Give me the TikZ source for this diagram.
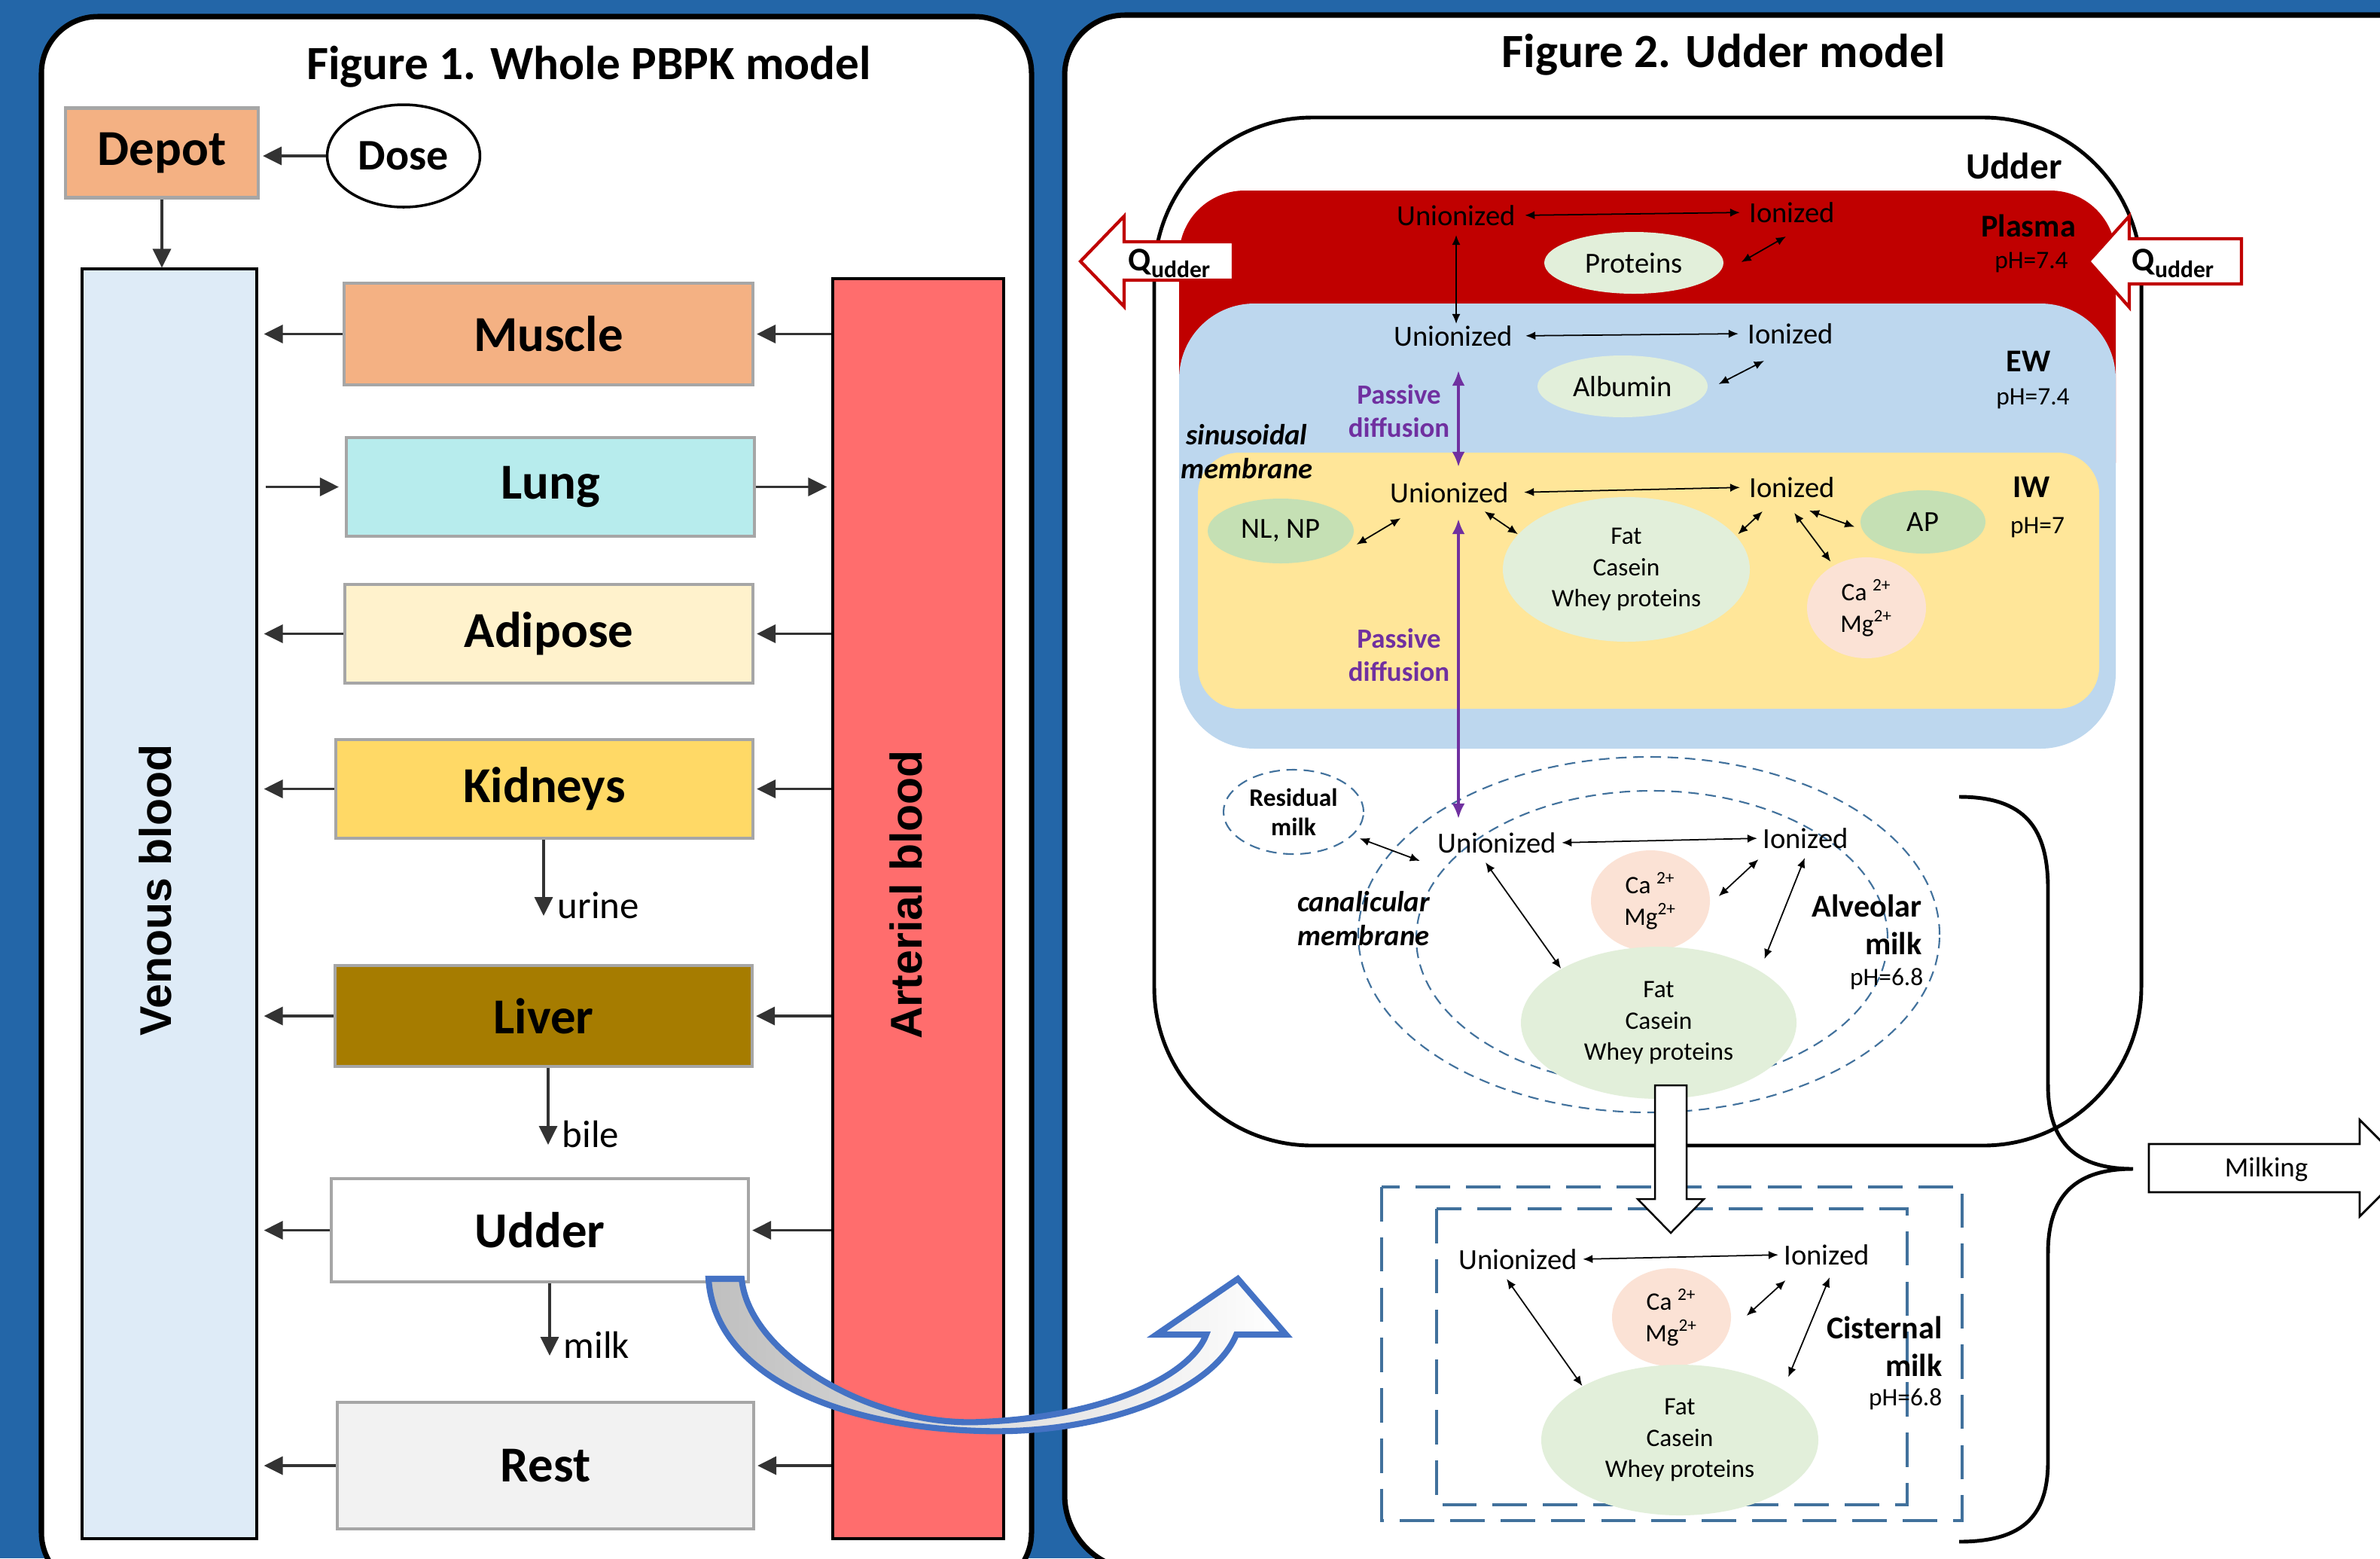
\documentclass[tikz,border=0pt]{standalone}
\usepackage{fontspec}
\setmainfont{Carlito}
\newfontfamily\arialfont{Liberation Sans}
\usetikzlibrary{arrows.meta, shapes.geometric}
\usepackage{xcolor}
\definecolor{bgblue}{RGB}{35,102,168}
\definecolor{tissueorange}{RGB}{244,177,131}
\definecolor{lungcyan}{RGB}{183,236,237}
\definecolor{fatcream}{RGB}{255,242,204}
\definecolor{kidneyyellow}{RGB}{255,217,102}
\definecolor{livergold}{RGB}{166,124,0}
\definecolor{restgray}{RGB}{242,242,242}
\definecolor{veinblue}{RGB}{222,235,247}
\definecolor{arteryred}{RGB}{255,109,109}
\definecolor{plasmared}{RGB}{192,0,0}
\definecolor{ewblue}{RGB}{189,215,238}
\definecolor{iwyellow}{RGB}{255,230,153}
\definecolor{palegreen}{RGB}{226,239,218}
\definecolor{midgreen}{RGB}{197,224,180}
\definecolor{peach}{RGB}{251,226,213}
\definecolor{diffpurple}{RGB}{112,48,160}
\definecolor{milkdash}{RGB}{65,113,156}
\definecolor{curveblue}{RGB}{68,114,196}
\tikzset{
  panel/.style={draw=black, fill=white, line width=2pt},
  organ/.style={
    draw=black!35, line width=1.2pt, minimum width=5.42cm, minimum height=1.31cm,
    font=\fontsize{19}{19}\selectfont\bfseries
  },
  blood/.style={draw, line width=0.9pt, minimum width=2.32cm},
  bloodlabel/.style={rotate=90, font=\arialfont\bfseries\fontsize{16.8}{17}\selectfont},
  flow/.style={-{Triangle[length=0.25cm, width=0.24cm]}, line width=1pt, black!80},
  excr/.style={anchor=base west, inner sep=0pt, font=\fontsize{14.5}{15}\selectfont},
  state/.style={inner sep=0.5pt, font=\fontsize{11}{11}\selectfont},
  pool/.style={ellipse, inner sep=0pt, align=center, font=\fontsize{11}{11}\selectfont},
  milkpool/.style={pool, fill=palegreen, font=\fontsize{9.5}{11.7}\selectfont},
  cation/.style={pool, fill=peach, minimum width=1.58cm, minimum height=1.34cm,
    font=\fontsize{9.5}{11.7}\selectfont},
  region/.style={inner sep=0pt, font=\fontsize{12}{14.2}\selectfont\bfseries},
  phval/.style={inner sep=0pt, font=\fontsize{9.5}{10}\selectfont},
  swap/.style={{Latex[length=1.3mm, width=1.1mm]}-{Latex[length=1.3mm, width=1.1mm]}, line width=0.5pt},
  diffuse/.style={{Latex[length=2mm, width=1.7mm]}-{Latex[length=2mm, width=1.7mm]}, line width=1.1pt, diffpurple},
  passive/.style={align=center, text=diffpurple, font=\fontsize{10.5}{12.5}\selectfont\bfseries},
  membrane/.style={align=center, font=\fontsize{11}{12.8}\selectfont\bfseries\itshape},
  dashline/.style={draw=milkdash, dash pattern=on 4pt off 2.5pt, line width=0.6pt},
  cisline/.style={draw=milkdash, dash pattern=on 13pt off 6pt, line width=1.4pt},
  qflow/.style={draw=plasmared, fill=white, line width=1.2pt},
}

\begin{document}
\begin{tikzpicture}
\useasboundingbox (0,0) rectangle (31.61,-20.69);
\fill[bgblue] (0,0) rectangle (31.61,-20.69);

\draw[panel, rounded corners=0.75cm] (0.55,-0.22) rectangle (13.70,-21.1);
\draw[panel] [rounded corners=0.8cm] (32.4,-0.20) -- (14.14,-0.20)
  [rounded corners=1cm] -- (14.14,-20.85) -- (32.4,-20.85);

% ---- whole-body model ----
\node[anchor=base, font=\fontsize{18}{18}\selectfont\bfseries] (title1) at (7.82,-1.05) {Figure 1. Whole PBPK model};

\node[organ, fill=tissueorange, minimum width=2.56cm, minimum height=1.19cm] (depot) at (2.15,-2.03) {Depot};
\node[ellipse, draw, line width=1pt, minimum width=1.8cm, minimum height=1.36cm,
  font=\fontsize{16.5}{16.5}\selectfont\bfseries] (dose) at (5.36,-2.07) {Dose};

\node[blood, fill=veinblue, minimum height=16.86cm] (venous) at (2.25,-12.0) {};
\node[blood, fill=arteryred, minimum width=2.27cm, minimum height=16.73cm] (arterial) at (12.195,-12.065) {};
\node[bloodlabel] (venousLbl) at (2.06,-11.82) {Venous blood};
\node[bloodlabel] (arterialLbl) at (12.03,-11.88) {Arterial blood};

\node[organ, fill=tissueorange, minimum width=5.43cm, minimum height=1.35cm] (muscle) at (7.285,-4.435) {Muscle};
\node[organ, fill=lungcyan] (lung) at (7.31,-6.465) {Lung};
\node[organ, fill=fatcream] (adipose) at (7.29,-8.415) {Adipose};
\node[organ, fill=kidneyyellow, minimum width=5.54cm] (kidneys) at (7.23,-10.475) {Kidneys};
\node[organ, fill=livergold, minimum width=5.54cm, minimum height=1.34cm] (liver) at (7.22,-13.49) {Liver};
\node[organ, fill=white, minimum width=5.54cm, minimum height=1.37cm] (udder) at (7.17,-16.335) {Udder};
\node[organ, fill=restgray, minimum width=5.53cm, minimum height=1.68cm] (rest) at (7.245,-19.46) {Rest};

\draw[flow, shorten >=0.04cm] (dose.west) -- (dose.west -| depot.east);
\draw[flow] (depot.south) -- (depot.south |- venous.north);

\foreach \o in {muscle, adipose, kidneys, liver, udder, rest} {
  \draw[flow, shorten >=0.08cm] (\o.west) -- (\o.west -| venous.east);
  \draw[flow, shorten >=0.03cm] (\o.east -| arterial.west) -- (\o.east);
}
\draw[flow, shorten <=0.1cm, shorten >=0.08cm] (lung.west -| venous.east) -- (lung.west);
\draw[flow, shorten >=0.06cm] (lung.east) -- (lung.east -| arterial.west);

\coordinate (urineEnd) at (7.22,-12.16);
\coordinate (bileEnd) at (7.28,-15.20);
\coordinate (milkEnd) at (7.30,-18.00);
\draw[flow] (kidneys.south -| urineEnd) -- (urineEnd);
\draw[flow] (liver.south -| bileEnd) -- (bileEnd);
\draw[flow] (udder.south -| milkEnd) -- (milkEnd);
\node[excr] (urine) at ([shift={(0.18,-0.03)}]urineEnd) {urine};
\node[excr] (bile) at ([shift={(0.18,-0.03)}]bileEnd) {bile};
\node[excr] (milkOut) at ([shift={(0.18,-0.03)}]milkEnd) {milk};

% ---- udder model ----
\node[anchor=base, font=\fontsize{18}{18}\selectfont\bfseries] (title2) at (22.89,-0.89) {Figure 2. Udder model};

\draw[line width=1.4pt, rounded corners=2.1cm] (15.33,-15.21) rectangle (28.44,-1.56);
\node[inner sep=0pt, font=\fontsize{14}{14}\selectfont\bfseries] (udderLbl) at (26.75,-2.20) {Udder};

\fill[plasmared, rounded corners=0.87cm] (15.66,-7.0) rectangle (28.10,-2.53);
\fill[ewblue, rounded corners=1cm] (15.66,-9.94) rectangle (28.10,-4.03);
\fill[iwyellow, rounded corners=0.55cm] (15.91,-9.41) rectangle (27.88,-6.01);

% plasma
\node[state] (unP) at (19.34,-2.86) {Unionized};
\node[state] (ionP) at (23.80,-2.82) {Ionized};
\node[pool, fill=palegreen, minimum width=2.38cm, minimum height=0.82cm] (prot) at (21.70,-3.49) {Proteins};
\node[region] (plasmaLbl) at (26.94,-3.00) {Plasma};
\node[phval] (phP) at (26.98,-3.48) {pH=7.4};

% extracellular water
\node[state] (unE) at (19.30,-4.46) {Unionized};
\node[state] (ionE) at (23.78,-4.43) {Ionized};
\node[pool, fill=palegreen, minimum width=2.26cm, minimum height=0.82cm] (alb) at (21.55,-5.13) {Albumin};
\node[region] (ewLbl) at (26.94,-4.80) {EW};
\node[phval] (phE) at (27.00,-5.29) {pH=7.4};
\node[passive] (passA) at (18.58,-5.46) {Passive\\diffusion};
\node[membrane] (sinus) at (16.56,-6.00) {sinusoidal\\membrane};

% intracellular water
\node[state] (unI) at (19.25,-6.54) {Unionized};
\node[state] (ionI) at (23.80,-6.47) {Ionized};
\node[pool, fill=midgreen, minimum width=1.94cm, minimum height=0.86cm] (nlnp) at (17.01,-7.05) {NL, NP};
\node[milkpool, minimum width=3.28cm, minimum height=1.92cm] (fatI) at (21.60,-7.56) {Fat\\Casein\\Whey proteins};
\node[pool, fill=midgreen, minimum width=1.66cm, minimum height=0.84cm] (ap) at (25.54,-6.93) {AP};
\node[cation] (camgI) at (24.79,-8.07) {Ca \textsuperscript{2+}\\Mg\textsuperscript{2+}};
\node[region] (iwLbl) at (26.98,-6.47) {IW};
\node[phval] (phI) at (27.06,-7.00) {pH=7};
\node[passive] (passB) at (18.58,-8.70) {Passive\\diffusion};

\draw[swap, shorten <=1mm, shorten >=1mm] (unP.east) -- (ionP.west);
\draw[swap] ([shift={(0.23,0.01)}]prot.east) -- ([shift={(-0.08,-0.16)}]ionP.south);
\draw[swap, shorten <=1mm] (unP.south) -- (unP.south |- unE.north);
\draw[swap, shorten <=1.5mm, shorten >=1mm] (unE.east) -- (ionE.west);
\draw[swap] ([shift={(0.14,0.03)}]alb.east) -- ([shift={(0.24,-0.20)}]ionE.south west);
\draw[diffuse] ([shift={(0.07,-0.30)}]unE.south) -- ([shift={(0.12,0.18)}]unI.north);
\draw[swap, shorten <=1.8mm, shorten >=1mm] (unI.east) -- (ionI.west);
\draw[swap] ([shift={(0.03,-0.18)}]nlnp.east) -- ([shift={(0.165,-0.18)}]unI.south west);
\draw[swap] ([shift={(-0.345,-0.09)}]unI.south east) -- (fatI.162);
\draw[swap, shorten <=0.3mm] (fatI.17) -- ([shift={(0.20,-0.16)}]ionI.south west);
\draw[swap, shorten >=0.6mm] ([shift={(0.03,-0.18)}]ionI.south) -- (camgI.128);
\draw[swap, shorten >=1mm] ([shift={(0.23,-0.15)}]ionI.south) -- (ap.187);

% alveolar milk
\node[ellipse, dashline, minimum width=1.86cm, minimum height=1.12cm, inner sep=0pt, align=center,
  font=\fontsize{9.5}{11}\selectfont\bfseries] (resid) at (17.18,-10.78) {Residual\\milk};
\node[ellipse, dashline, minimum width=7.72cm, minimum height=4.72cm] (alvOut) at (21.90,-12.41) {};
\node[ellipse, dashline, minimum width=6.26cm, minimum height=3.92cm] (alvIn) at (21.94,-12.46) {};
\node[state] (unA) at (19.88,-11.19) {Unionized};
\node[state] (ionA) at (23.98,-11.13) {Ionized};
\node[cation] (camgA) at (21.92,-11.96) {Ca \textsuperscript{2+}\\Mg\textsuperscript{2+}};
\node[milkpool, minimum width=3.66cm, minimum height=2.02cm] (fatA) at (22.03,-13.58) {Fat\\Casein\\Whey proteins};
\node[membrane] (canal) at (18.11,-12.20) {canalicular\\membrane};
\node[region, align=right, anchor=east] (alvLbl) at (25.53,-12.28) {Alveolar\\milk};
\node[phval, anchor=east] (phA) at (25.55,-13.00) {pH=6.8};

\draw[diffuse] ([shift={(0.12,-0.19)}]unI.south) -- ([shift={(-0.51,0.16)}]unA.north);
\draw[swap, shorten <=1mm] (resid.-22) -- ([shift={(-0.21,-0.24)}]unA.west);
\draw[swap, shorten <=0.5mm, shorten >=0.5mm] (unA.east) -- (ionA.west);
\draw[swap] ([shift={(-0.15,-0.10)}]unA.south) -- (fatA.151);
\draw[swap] ([shift={(0.11,0.06)}]camgA.east) -- ([shift={(-0.035,-0.12)}]ionA.south west);
\draw[swap] ([shift={(-0.01,-0.10)}]ionA.south) -- ([shift={(0.16,0.10)}]fatA.31);

% cisternal milk
\draw[cisline] (18.35,-15.76) rectangle (26.06,-20.19);
\draw[cisline] (19.08,-16.05) rectangle (25.33,-19.98);
\node[state] (unC) at (20.16,-16.72) {Unionized};
\node[state] (ionC) at (24.26,-16.66) {Ionized};
\node[cation, minimum height=1.30cm] (camgC) at (22.20,-17.49) {Ca \textsuperscript{2+}\\Mg\textsuperscript{2+}};
\node[milkpool, minimum width=3.68cm, minimum height=2.0cm] (fatC) at (22.31,-19.12) {Fat\\Casein\\Whey proteins};
\node[region, align=right, anchor=east] (cisLbl) at (25.80,-17.88) {Cisternal\\milk};
\node[phval, anchor=east] (phC) at (25.80,-18.58) {pH=6.8};

\draw[swap, shorten <=0.5mm, shorten >=0.5mm] (unC.east) -- (ionC.west);
\draw[swap] ([shift={(-0.15,-0.10)}]unC.south) -- (fatC.151);
\draw[swap] ([shift={(0.20,0.02)}]camgC.east) -- ([shift={(0.045,-0.18)}]ionC.south west);
\draw[swap] ([shift={(0.04,-0.14)}]ionC.south) -- ([shift={(0.2,0.09)}]fatC.31);

% alveolar -> cisternal
\coordinate (drop) at (21.98,-14.41);
\draw[fill=white, line width=0.7pt] (drop) -- ++(0.42,0) -- ++(0,-1.51) -- ++(0.23,0)
  -- ++(-0.44,-0.45) -- ++(-0.44,0.45) -- ++(0.23,0) -- cycle;

% blood flow through the udder
\draw[qflow] (14.35,-3.47) -- (14.93,-2.87) -- (14.93,-3.21) -- (16.38,-3.21)
  -- (16.38,-3.72) -- (14.93,-3.72) -- (14.93,-4.07) -- cycle;
\draw[qflow] (27.74,-3.47) -- (28.28,-2.87) -- (28.28,-3.17) -- (29.77,-3.17)
  -- (29.77,-3.77) -- (28.28,-3.77) -- (28.28,-4.08) -- cycle;
\node[inner sep=0pt] (qOut) at (15.53,-3.50) {\fontsize{12.5}{13}\selectfont\bfseries Q\fontsize{9}{10}\selectfont\raisebox{-0.9mm}{udder}};
\node[inner sep=0pt] (qIn) at (28.86,-3.50) {\fontsize{12.5}{13}\selectfont\bfseries Q\fontsize{9}{10}\selectfont\raisebox{-0.9mm}{udder}};

% milking
\draw[line width=1.4pt] (26.02,-10.58) .. controls (26.9,-10.58) and (27.2,-11.0) .. (27.2,-11.8)
  -- (27.2,-14.4) .. controls (27.2,-15.2) and (27.6,-15.52) .. (28.33,-15.52)
  .. controls (27.6,-15.52) and (27.2,-15.84) .. (27.2,-16.64)
  -- (27.2,-19.4) .. controls (27.2,-20.1) and (26.9,-20.47) .. (26.02,-20.47);
\draw[fill=white, line width=0.8pt] (28.54,-15.19) -- (31.34,-15.19) -- (31.34,-14.87) -- (31.98,-15.51)
  -- (31.34,-16.15) -- (31.34,-15.83) -- (28.54,-15.83) -- cycle;
\node[inner sep=0pt, font=\fontsize{10.5}{11}\selectfont] (milking) at (30.10,-15.53) {Milking};

% udder compartment -> udder model
\draw[draw=curveblue, line width=2.3pt, left color=black!25, right color=white]
  (9.85,-16.98) .. controls (9.95,-18.0) and (11.6,-18.95) .. (13.03,-18.88)
  .. controls (14.6,-18.82) and (15.8,-18.3) .. (16.02,-17.72)
  -- (15.36,-17.72) -- (16.44,-16.98) -- (17.08,-17.72) -- (16.42,-17.72)
  .. controls (16.1,-18.5) and (14.6,-19.05) .. (13.03,-19.0)
  .. controls (11.2,-18.95) and (9.5,-18.3) .. (9.41,-16.98) -- cycle;

\end{tikzpicture}
\end{document}
